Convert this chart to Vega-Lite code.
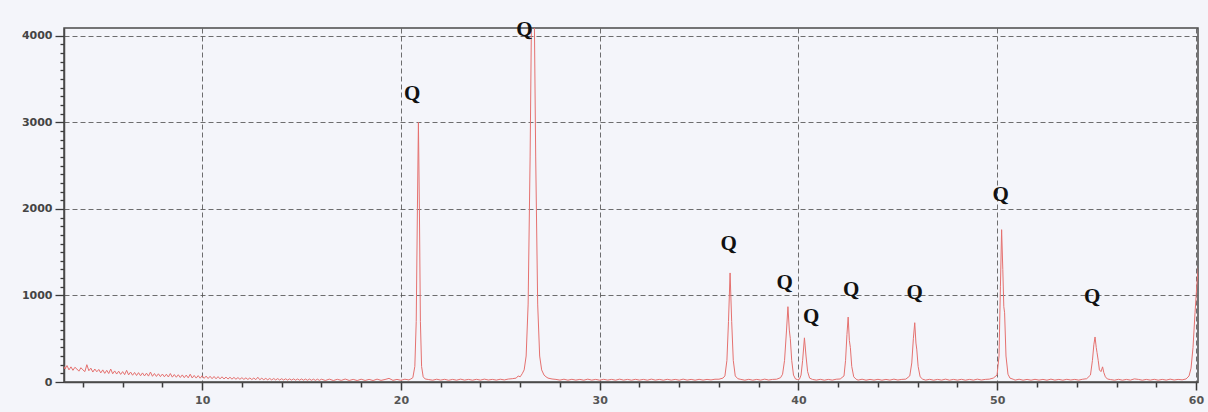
{
  "$schema": "https://vega.github.io/schema/vega-lite/v6.json",
  "width": 1134,
  "height": 354,
  "autosize": {"type": "none"},
  "padding": {"left": 64, "top": 28, "right": 10, "bottom": 30},
  "background": "#f4f5fa",
  "config": {"view": {"stroke": "#4a4a4a", "strokeWidth": 1.5, "fill": "#f4f5fa"}},
  "datasets": {
    "xrd": [
      {"t":3.05,"i":180},{"t":3.1,"i":150},{"t":3.2,"i":190},{"t":3.3,"i":140},{"t":3.4,"i":175},{"t":3.5,"i":135},{"t":3.6,"i":170},{"t":3.7,"i":150},{"t":3.8,"i":125},{"t":3.9,"i":165},
      {"t":4.0,"i":140},{"t":4.1,"i":120},{"t":4.2,"i":200},{"t":4.3,"i":130},{"t":4.4,"i":160},{"t":4.5,"i":115},{"t":4.6,"i":150},{"t":4.7,"i":118},{"t":4.8,"i":145},{"t":4.9,"i":105},
      {"t":5.0,"i":140},{"t":5.1,"i":100},{"t":5.2,"i":135},{"t":5.3,"i":98},{"t":5.4,"i":150},{"t":5.5,"i":95},{"t":5.6,"i":128},{"t":5.7,"i":92},{"t":5.8,"i":125},{"t":5.9,"i":88},
      {"t":6.0,"i":120},{"t":6.1,"i":85},{"t":6.2,"i":135},{"t":6.3,"i":82},{"t":6.4,"i":115},{"t":6.5,"i":78},{"t":6.6,"i":110},{"t":6.7,"i":75},{"t":6.8,"i":108},{"t":6.9,"i":72},
      {"t":7.0,"i":105},{"t":7.1,"i":70},{"t":7.2,"i":102},{"t":7.3,"i":68},{"t":7.4,"i":115},{"t":7.5,"i":66},{"t":7.6,"i":98},{"t":7.7,"i":64},{"t":7.8,"i":95},{"t":7.9,"i":62},
      {"t":8.0,"i":92},{"t":8.1,"i":60},{"t":8.2,"i":90},{"t":8.3,"i":58},{"t":8.4,"i":98},{"t":8.5,"i":56},{"t":8.6,"i":86},{"t":8.7,"i":55},{"t":8.8,"i":84},{"t":8.9,"i":52},
      {"t":9.0,"i":82},{"t":9.1,"i":50},{"t":9.2,"i":80},{"t":9.3,"i":48},{"t":9.4,"i":90},{"t":9.5,"i":46},{"t":9.6,"i":76},{"t":9.7,"i":45},{"t":9.8,"i":74},{"t":9.9,"i":44},
      {"t":10.0,"i":72},{"t":10.1,"i":42},{"t":10.2,"i":68},{"t":10.3,"i":40},{"t":10.4,"i":66},{"t":10.5,"i":38},{"t":10.6,"i":64},{"t":10.7,"i":37},{"t":10.8,"i":62},{"t":10.9,"i":36},
      {"t":11.0,"i":60},{"t":11.1,"i":35},{"t":11.2,"i":57},{"t":11.3,"i":34},{"t":11.4,"i":55},{"t":11.5,"i":33},{"t":11.6,"i":53},{"t":11.7,"i":32},{"t":11.8,"i":51},{"t":11.9,"i":31},
      {"t":12.0,"i":50},{"t":12.1,"i":30},{"t":12.2,"i":48},{"t":12.3,"i":29},{"t":12.4,"i":47},{"t":12.5,"i":28},{"t":12.6,"i":46},{"t":12.7,"i":27},{"t":12.8,"i":55},{"t":12.9,"i":26},
      {"t":13.0,"i":44},{"t":13.1,"i":26},{"t":13.2,"i":42},{"t":13.3,"i":25},{"t":13.4,"i":41},{"t":13.5,"i":24},{"t":13.6,"i":40},{"t":13.7,"i":24},{"t":13.8,"i":39},{"t":13.9,"i":23},
      {"t":14.0,"i":38},{"t":14.1,"i":23},{"t":14.2,"i":37},{"t":14.3,"i":22},{"t":14.4,"i":36},{"t":14.5,"i":22},{"t":14.6,"i":36},{"t":14.7,"i":21},{"t":14.8,"i":35},{"t":14.9,"i":21},
      {"t":15.0,"i":35},{"t":15.1,"i":21},{"t":15.2,"i":34},{"t":15.3,"i":20},{"t":15.4,"i":34},{"t":15.5,"i":20},{"t":15.6,"i":33},{"t":15.7,"i":19},{"t":15.8,"i":33},{"t":15.9,"i":19},
      {"t":16.0,"i":32},{"t":16.2,"i":18},{"t":16.4,"i":33},{"t":16.6,"i":17},{"t":16.8,"i":31},{"t":17.0,"i":19},{"t":17.2,"i":34},{"t":17.4,"i":18},{"t":17.6,"i":30},{"t":17.8,"i":17},
      {"t":18.0,"i":32},{"t":18.2,"i":18},{"t":18.4,"i":30},{"t":18.6,"i":17},{"t":18.8,"i":33},{"t":19.0,"i":19},{"t":19.2,"i":29},{"t":19.4,"i":42},{"t":19.6,"i":19},{"t":19.8,"i":30},
      {"t":20.0,"i":20},{"t":20.2,"i":32},{"t":20.4,"i":24},{"t":20.5,"i":35},
      {"t":20.6,"i":50},{"t":20.7,"i":180},{"t":20.77,"i":700},{"t":20.83,"i":2000},{"t":20.88,"i":3000},{"t":20.93,"i":2000},{"t":20.98,"i":700},{"t":21.04,"i":180},{"t":21.12,"i":60},{"t":21.22,"i":35},{"t":21.4,"i":28},
      {"t":21.6,"i":21},{"t":21.8,"i":32},{"t":22.0,"i":22},{"t":22.2,"i":31},{"t":22.4,"i":20},{"t":22.6,"i":30},{"t":22.8,"i":21},{"t":23.0,"i":33},{"t":23.2,"i":22},{"t":23.4,"i":30},
      {"t":23.6,"i":21},{"t":23.8,"i":31},{"t":24.0,"i":22},{"t":24.2,"i":33},{"t":24.4,"i":23},{"t":24.6,"i":30},{"t":24.8,"i":22},{"t":25.0,"i":32},{"t":25.2,"i":24},{"t":25.4,"i":34},
      {"t":25.6,"i":38},{"t":25.8,"i":45},{"t":25.9,"i":70},{"t":26.0,"i":60},{"t":26.1,"i":95},{"t":26.2,"i":140},{"t":26.3,"i":300},{"t":26.4,"i":900},{"t":26.5,"i":2600},{"t":26.58,"i":4500},
      {"t":26.7,"i":4500},{"t":26.78,"i":2600},{"t":26.88,"i":900},{"t":26.98,"i":300},{"t":27.08,"i":140},{"t":27.2,"i":80},{"t":27.3,"i":60},{"t":27.4,"i":45},{"t":27.6,"i":35},{"t":27.8,"i":30},
      {"t":28.0,"i":22},{"t":28.2,"i":32},{"t":28.4,"i":21},{"t":28.6,"i":31},{"t":28.8,"i":22},{"t":29.0,"i":30},{"t":29.2,"i":21},{"t":29.4,"i":33},{"t":29.6,"i":22},{"t":29.8,"i":30},
      {"t":30.0,"i":21},{"t":30.2,"i":31},{"t":30.4,"i":22},{"t":30.6,"i":30},{"t":30.8,"i":21},{"t":31.0,"i":33},{"t":31.2,"i":22},{"t":31.4,"i":30},{"t":31.6,"i":21},{"t":31.8,"i":31},
      {"t":32.0,"i":22},{"t":32.2,"i":30},{"t":32.4,"i":21},{"t":32.6,"i":33},{"t":32.8,"i":22},{"t":33.0,"i":30},{"t":33.2,"i":21},{"t":33.4,"i":31},{"t":33.6,"i":22},{"t":33.8,"i":30},
      {"t":34.0,"i":21},{"t":34.2,"i":33},{"t":34.4,"i":22},{"t":34.6,"i":30},{"t":34.8,"i":21},{"t":35.0,"i":31},{"t":35.2,"i":22},{"t":35.4,"i":30},{"t":35.6,"i":24},{"t":35.8,"i":32},
      {"t":36.0,"i":32},{"t":36.2,"i":45},{"t":36.3,"i":70},{"t":36.4,"i":250},{"t":36.48,"i":700},{"t":36.56,"i":1260},{"t":36.64,"i":700},{"t":36.72,"i":250},{"t":36.82,"i":70},{"t":36.95,"i":38},
      {"t":37.1,"i":30},{"t":37.3,"i":21},{"t":37.5,"i":31},{"t":37.7,"i":21},{"t":37.9,"i":30},{"t":38.1,"i":22},{"t":38.3,"i":33},{"t":38.5,"i":23},{"t":38.7,"i":30},{"t":38.9,"i":32},
      {"t":39.1,"i":50},{"t":39.2,"i":90},{"t":39.3,"i":250},{"t":39.4,"i":600},{"t":39.47,"i":870},{"t":39.54,"i":600},{"t":39.59,"i":500},{"t":39.66,"i":250},{"t":39.75,"i":80},{"t":39.85,"i":35},
      {"t":39.95,"i":28},{"t":40.05,"i":32},{"t":40.13,"i":80},{"t":40.21,"i":250},{"t":40.3,"i":510},{"t":40.38,"i":300},{"t":40.46,"i":120},{"t":40.56,"i":45},{"t":40.7,"i":30},
      {"t":40.9,"i":22},{"t":41.1,"i":31},{"t":41.3,"i":21},{"t":41.5,"i":30},{"t":41.7,"i":22},{"t":41.9,"i":32},{"t":42.1,"i":35},
      {"t":42.29,"i":70},{"t":42.37,"i":250},{"t":42.44,"i":550},{"t":42.5,"i":750},{"t":42.56,"i":480},{"t":42.61,"i":400},{"t":42.68,"i":180},{"t":42.78,"i":60},{"t":42.9,"i":32},
      {"t":43.0,"i":22},{"t":43.2,"i":32},{"t":43.4,"i":21},{"t":43.6,"i":30},{"t":43.8,"i":22},{"t":44.0,"i":31},{"t":44.2,"i":21},{"t":44.4,"i":30},{"t":44.6,"i":22},{"t":44.8,"i":33},
      {"t":45.0,"i":23},{"t":45.2,"i":30},{"t":45.4,"i":33},
      {"t":45.6,"i":70},{"t":45.7,"i":220},{"t":45.78,"i":500},{"t":45.85,"i":685},{"t":45.91,"i":450},{"t":45.95,"i":380},{"t":46.02,"i":180},{"t":46.12,"i":60},{"t":46.25,"i":32},
      {"t":46.4,"i":22},{"t":46.6,"i":31},{"t":46.8,"i":21},{"t":47.0,"i":30},{"t":47.2,"i":22},{"t":47.4,"i":33},{"t":47.6,"i":21},{"t":47.8,"i":30},{"t":48.0,"i":22},{"t":48.2,"i":31},
      {"t":48.4,"i":21},{"t":48.6,"i":30},{"t":48.8,"i":22},{"t":49.0,"i":33},{"t":49.2,"i":23},{"t":49.4,"i":30},{"t":49.6,"i":33},{"t":49.8,"i":45},
      {"t":49.99,"i":80},{"t":50.09,"i":300},{"t":50.16,"i":1100},{"t":50.22,"i":1760},{"t":50.28,"i":1300},{"t":50.33,"i":870},{"t":50.37,"i":800},{"t":50.44,"i":300},{"t":50.54,"i":90},{"t":50.64,"i":45},{"t":50.8,"i":32},
      {"t":50.9,"i":22},{"t":51.1,"i":32},{"t":51.3,"i":21},{"t":51.5,"i":30},{"t":51.7,"i":21},{"t":51.9,"i":31},{"t":52.1,"i":22},{"t":52.3,"i":30},{"t":52.5,"i":21},{"t":52.7,"i":33},
      {"t":52.9,"i":22},{"t":53.1,"i":30},{"t":53.3,"i":21},{"t":53.5,"i":31},{"t":53.7,"i":23},{"t":53.9,"i":30},{"t":54.1,"i":22},{"t":54.3,"i":32},{"t":54.5,"i":38},
      {"t":54.69,"i":80},{"t":54.79,"i":250},{"t":54.86,"i":430},{"t":54.92,"i":520},{"t":54.98,"i":400},{"t":55.02,"i":340},{"t":55.08,"i":250},{"t":55.14,"i":140},{"t":55.22,"i":120},{"t":55.3,"i":175},{"t":55.36,"i":110},{"t":55.44,"i":60},{"t":55.54,"i":35},{"t":55.7,"i":28},
      {"t":55.9,"i":21},{"t":56.1,"i":31},{"t":56.3,"i":21},{"t":56.5,"i":30},{"t":56.7,"i":22},{"t":56.9,"i":36},{"t":57.1,"i":30},{"t":57.3,"i":21},{"t":57.5,"i":30},{"t":57.7,"i":22},
      {"t":57.9,"i":31},{"t":58.1,"i":21},{"t":58.3,"i":30},{"t":58.5,"i":22},{"t":58.7,"i":33},{"t":58.9,"i":23},{"t":59.1,"i":30},{"t":59.3,"i":25},{"t":59.5,"i":35},{"t":59.65,"i":70},
      {"t":59.75,"i":160},{"t":59.85,"i":400},{"t":59.95,"i":800},{"t":60.05,"i":1150},{"t":60.15,"i":1400}
    ],
    "labels": [
      {"t":20.57,"i":3330,"label":"Q"},
      {"t":26.21,"i":4065,"label":"Q"},
      {"t":36.49,"i":1600,"label":"Q"},
      {"t":39.3,"i":1140,"label":"Q"},
      {"t":40.64,"i":755,"label":"Q"},
      {"t":42.65,"i":1063,"label":"Q"},
      {"t":45.85,"i":1025,"label":"Q"},
      {"t":50.17,"i":2160,"label":"Q"},
      {"t":54.78,"i":985,"label":"Q"}
    ]
  },
  "encoding": {
    "x": {
      "field": "t", "type": "quantitative",
      "scale": {"domain": [3.05, 60.1], "nice": false, "zero": false},
      "axis": {
        "title": null,
        "values": [4,6,8,10,12,14,16,18,20,22,24,26,28,30,32,34,36,38,40,42,44,46,48,50,52,54,56,58,60],
        "labelExpr": "datum.value % 10 === 0 ? datum.label : ''",
        "labelOverlap": false,
        "grid": true, "gridColor": "#555555", "gridDash": [5, 3], "gridWidth": 1,
        "gridOpacity": {"condition": {"test": "datum.value % 10 === 0", "value": 0.85}, "value": 0},
        "domainColor": "#4a4a4a", "domainWidth": 1.5,
        "tickColor": "#3a3a3a", "tickWidth": 1.5,
        "tickSize": {"condition": {"test": "datum.value % 10 === 0", "value": 8}, "value": 5},
        "labelFont": "DejaVu Sans", "labelFontSize": 11, "labelFontWeight": "bold", "labelColor": "#555555", "labelPadding": 4
      }
    },
    "y": {
      "field": "i", "type": "quantitative",
      "scale": {"domain": [0, 4090], "nice": false},
      "axis": {
        "title": null, "format": "d",
        "values": [0,100,200,300,400,500,600,700,800,900,1000,1100,1200,1300,1400,1500,1600,1700,1800,1900,2000,2100,2200,2300,2400,2500,2600,2700,2800,2900,3000,3100,3200,3300,3400,3500,3600,3700,3800,3900,4000],
        "labelExpr": "datum.value % 1000 === 0 ? datum.label : ''",
        "labelOverlap": false,
        "grid": true, "gridColor": "#555555", "gridDash": [5, 3], "gridWidth": 1,
        "gridOpacity": {"condition": {"test": "datum.value % 1000 === 0", "value": 0.85}, "value": 0},
        "domainColor": "#4a4a4a", "domainWidth": 1.5,
        "tickColor": "#3a3a3a", "tickWidth": 1.3,
        "tickSize": {"condition": {"test": "datum.value % 1000 === 0", "value": 9}, "value": 4},
        "labelFont": "DejaVu Sans", "labelFontSize": 11, "labelFontWeight": "bold", "labelColor": "#444444", "labelPadding": 3
      }
    }
  },
  "layer": [
    {
      "data": {"name": "xrd"},
      "mark": {"type": "line", "color": "#e5716f", "strokeWidth": 1, "clip": true}
    },
    {
      "data": {"name": "labels"},
      "mark": {"type": "text", "font": "Liberation Serif", "fontSize": 21, "fontWeight": "bold", "color": "#111111", "align": "center", "baseline": "middle"},
      "encoding": {
        "text": {"field": "label", "type": "nominal"}
      }
    }
  ]
}
